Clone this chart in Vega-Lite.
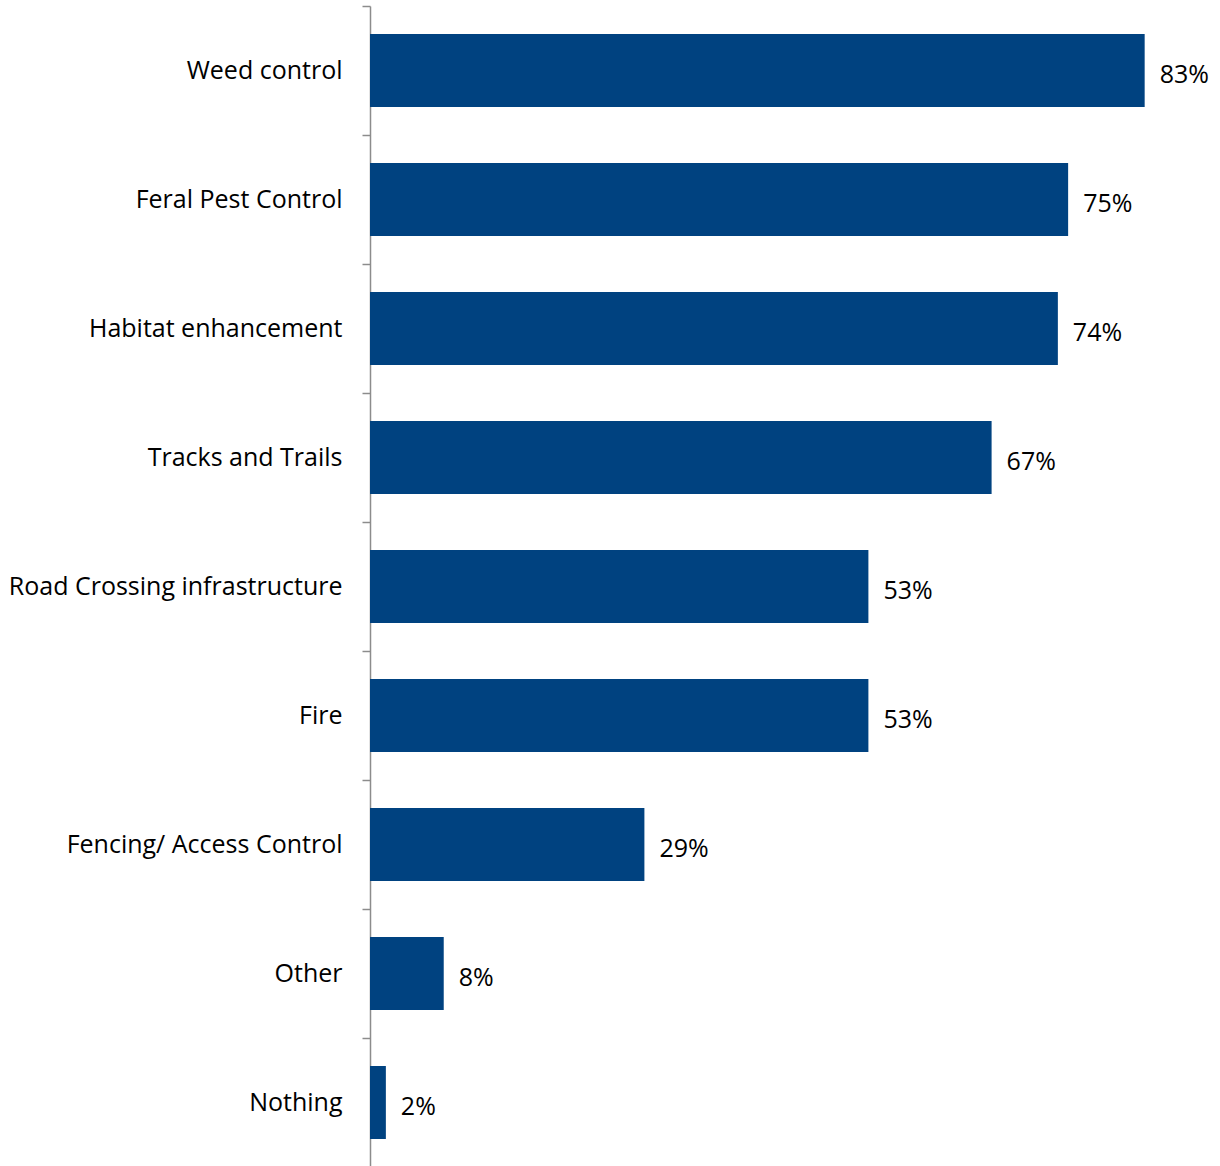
{
  "$schema": "https://vega.github.io/schema/vega-lite/v6.json",
  "autosize": "none",
  "width": 840,
  "height": 1161,
  "padding": {"left": 370, "top": 6, "right": 10, "bottom": 0},
  "background": "white",
  "config": {"view": {"stroke": null}, "font": "Open Sans"},
  "data": {
    "values": [
      {"category": "Weed control", "value": 0.83},
      {"category": "Feral Pest Control", "value": 0.748},
      {"category": "Habitat enhancement", "value": 0.737},
      {"category": "Tracks and Trails", "value": 0.666},
      {"category": "Road Crossing infrastructure", "value": 0.534},
      {"category": "Fire", "value": 0.534},
      {"category": "Fencing/ Access Control", "value": 0.294},
      {"category": "Other", "value": 0.079},
      {"category": "Nothing", "value": 0.017}
    ]
  },
  "encoding": {
    "y": {
      "field": "category",
      "type": "nominal",
      "sort": null,
      "scale": {"paddingInner": 0.434, "paddingOuter": 0.217},
      "axis": {
        "title": null,
        "tickOffset": -64.5,
        "labelOffset": 64.5,
        "tickSize": 8,
        "tickColor": "#8c8c8c",
        "tickWidth": 1.5,
        "domainColor": "#8c8c8c",
        "domainWidth": 1.5,
        "labelPadding": 20,
        "labelFontSize": 25,
        "labelLimit": 400,
        "labelColor": "#000000",
        "labelFont": "Open Sans"
      }
    },
    "x": {
      "field": "value",
      "type": "quantitative",
      "scale": {"domain": [0, 0.9], "nice": false},
      "axis": null
    }
  },
  "layer": [
    {"mark": {"type": "bar", "color": "#004280"}},
    {
      "mark": {"type": "text", "align": "left", "baseline": "middle", "dx": 15, "dy": 4, "fontSize": 25, "color": "#000000", "font": "Open Sans"},
      "encoding": {"text": {"field": "value", "type": "quantitative", "format": ".0%"}}
    }
  ]
}
